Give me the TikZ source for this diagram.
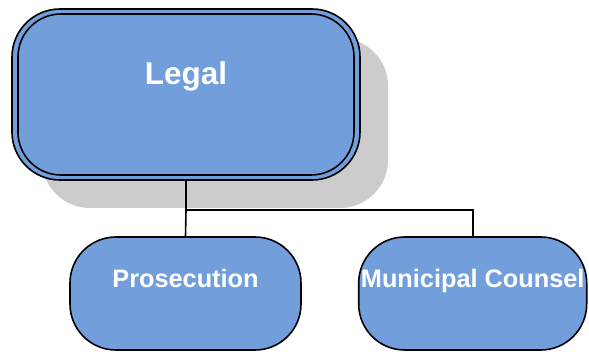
\documentclass[tikz,border=0pt]{standalone}
\usepackage{fontspec}
\setmainfont{Liberation Sans}
\definecolor{boxblue}{RGB}{114,159,219}
\definecolor{shadowgray}{RGB}{204,204,204}
\begin{document}
\begin{tikzpicture}[x=1pt,y=-1pt,
  unitbox/.style={rectangle, rounded corners=#1, draw=black, line width=1.6pt,
    fill=boxblue, inner sep=0pt},
  shade box/.style={rectangle, rounded corners=48pt, fill=shadowgray, draw=none, inner sep=0pt},
  title/.style={text=white, font=\bfseries\fontsize{31.5}{36}\selectfont, inner sep=0pt, anchor=base},
  subtitle/.style={text=white, font=\bfseries\fontsize{25.3}{30}\selectfont, inner sep=0pt, anchor=base},
  link/.style={draw=black, line width=1.6pt}]
\useasboundingbox (0,0) rectangle (589,352);

% drop shadow behind the head unit
\node[shade box, minimum width=346pt, minimum height=170pt] (legalshadow) at (215,123) {};

% head unit with a double outline
\node[unitbox=48pt, minimum width=348pt, minimum height=171pt] (legal) at (186,94.5) {};
\node[unitbox=43pt, fill=none, minimum width=336pt, minimum height=161pt] (legalinner) at (186,94.5) {};
\node[title] (legaltext) at (186,84.5) {Legal};

% sub units
\node[unitbox=46pt, minimum width=231pt, minimum height=113pt] (pros) at (185.5,293.5) {};
\node[subtitle] (prostext) at (185.5,287.5) {Prosecution};

\node[unitbox=46pt, minimum width=228pt, minimum height=113pt] (muni) at (472.7,293.5) {};
\node[subtitle] (munitext) at (472.7,287.5) {Municipal Counsel};

% connectors
\coordinate (junction) at (legal.south |- 0,210);
\draw[link] (legal.south) -- (junction) -| (muni.north);
\draw[link] (junction) -- (pros.north);
\end{tikzpicture}
\end{document}
